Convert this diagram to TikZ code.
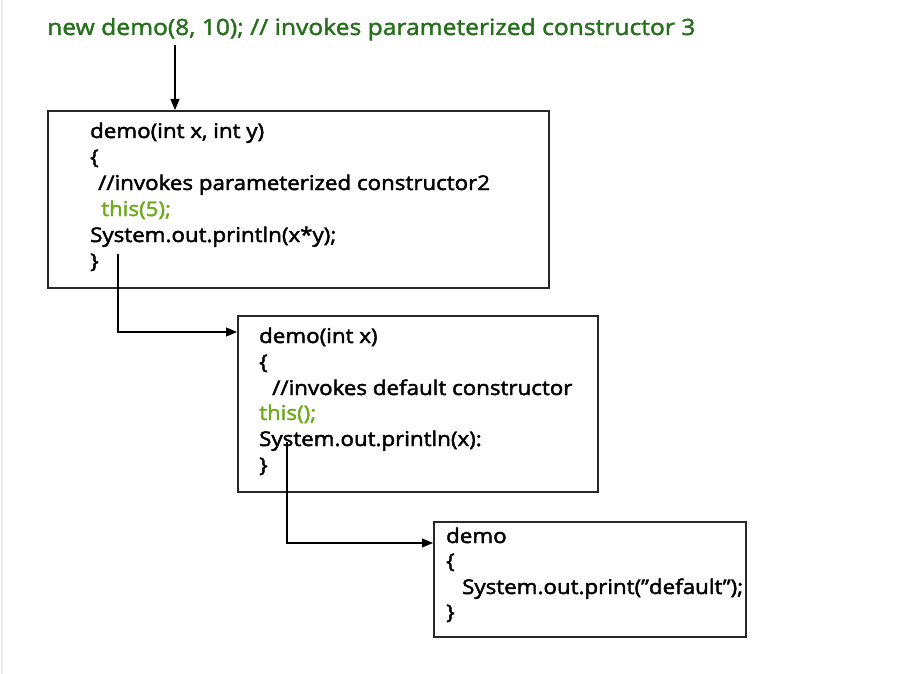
\documentclass[tikz,border=0pt]{standalone}
\usepackage{fontspec}
\setmainfont{Open Sans}
\newfontface\codefont{Open Sans}[FakeBold=2.2,FakeStretch=1.1]
\newfontface\titlefont{Open Sans}[FakeBold=1.8,FakeStretch=1.1]
\usetikzlibrary{arrows.meta}
\definecolor{titlegreen}{RGB}{38,112,28}
\definecolor{codegreen}{RGB}{110,170,30}
\definecolor{boxline}{RGB}{40,40,40}
\tikzset{
  codebox/.style={draw=boxline, line width=1.6pt, fill=white, inner sep=0pt, anchor=north west},
  code/.style={anchor=base west, inner sep=0pt, font=\codefont\fontsize{20.3}{22}\selectfont, text=black},
  greencode/.style={code, text=codegreen},
  conn/.style={draw=black, line width=1.1pt, -{Triangle[length=11pt,width=9pt]}},
}
\begin{document}
\begin{tikzpicture}[x=1pt,y=-1pt]
\useasboundingbox (0,0) rectangle (908,674);
\draw[black!8, line width=2pt] (2,0) -- (2,674);
% title
\node[anchor=base west, inner sep=0pt, text=titlegreen, font=\titlefont\fontsize{22.4}{24}\selectfont] (title) at (47,35) {new demo(8, 10); // invokes parameterized constructor 3};
% boxes
\node[codebox, minimum width=501pt, minimum height=177pt] (b1) at (47,110) {};
\node[codebox, minimum width=360pt, minimum height=176pt] (b2) at (237,315) {};
\node[codebox, minimum width=312pt, minimum height=115pt] (b3) at (433,521) {};
% box 1 text
\node[code] (b1l1) at (90,138) {demo(int x, int y)};
\node[code] (b1l2) at (90,164) {\{};
\node[code] (b1l3) at (98,190) {//invokes parameterized constructor2};
\node[greencode] (b1l4) at (101,216) {this(5);};
\node[code] (b1l5) at (90,242) {System.out.println(x*y);};
\node[code] (b1l6) at (90,268) {\}};
% box 2 text
\node[code] (b2l1) at (259,343) {demo(int x)};
\node[code] (b2l2) at (259,369) {\{};
\node[code] (b2l3) at (272,395) {//invokes default constructor};
\node[greencode] (b2l4) at (259,420) {this();};
\node[code] (b2l5) at (259,446) {System.out.println(x):};
\node[code] (b2l6) at (259,472) {\}};
% box 3 text
\node[code] (b3l1) at (446,543) {demo};
\node[code] (b3l2) at (446,568) {\{};
\node[code] (b3l3) at (462,594) {System.out.print(”default”);};
\node[code] (b3l4) at (446,619) {\}};
% connectors
\coordinate (s1) at (175,45);
\coordinate (s2) at (118,254);
\coordinate (s3) at (287,442);
\draw[conn] (s1) -- (s1 |- b1.north);
\draw[conn] (s2) |- (b2.west |- 0,332);
\draw[conn] (s3) |- (b3.west |- 0,543);
\end{tikzpicture}
\end{document}
